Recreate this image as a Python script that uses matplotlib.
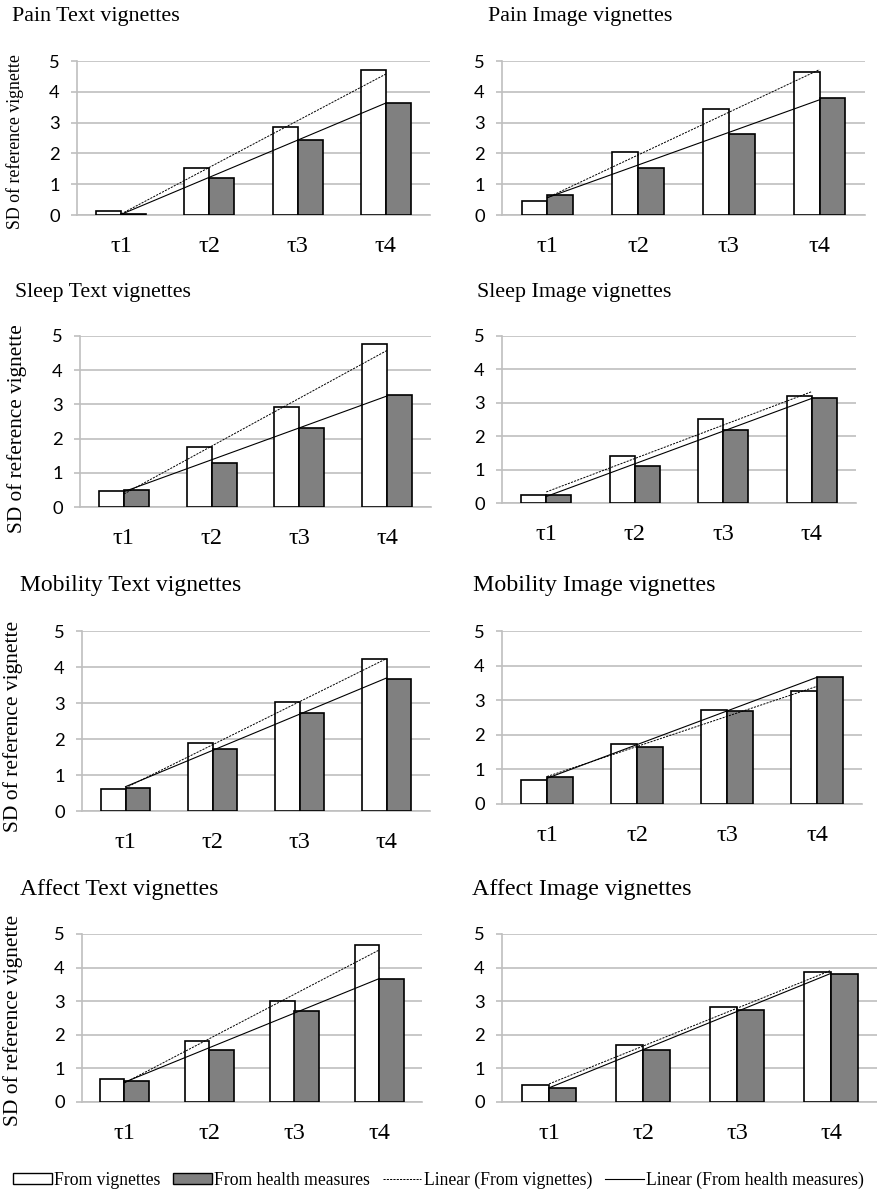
import numpy as np
import matplotlib
matplotlib.use("Agg")
import matplotlib.pyplot as plt
from matplotlib.patches import Patch
from matplotlib.lines import Line2D

# ---------------- data ----------------
categories = ["τ1", "τ2", "τ3", "τ4"]
titles = ["Pain Text vignettes", "Pain Image vignettes",
          "Sleep Text vignettes", "Sleep Image vignettes",
          "Mobility Text vignettes", "Mobility Image vignettes",
          "Affect Text vignettes", "Affect Image vignettes"]

pain_text_vig = [0.12, 1.52, 2.86, 4.72]
pain_text_hm = [0.04, 1.20, 2.42, 3.65]
pain_image_vig = [0.47, 2.04, 3.43, 4.63]
pain_image_hm = [0.64, 1.53, 2.64, 3.80]
sleep_text_vig = [0.48, 1.76, 2.92, 4.76]
sleep_text_hm = [0.50, 1.30, 2.32, 3.27]
sleep_image_vig = [0.23, 1.40, 2.50, 3.20]
sleep_image_hm = [0.23, 1.10, 2.19, 3.13]
mobility_text_vig = [0.62, 1.88, 3.02, 4.23]
mobility_text_hm = [0.65, 1.71, 2.71, 3.67]
mobility_image_vig = [0.69, 1.73, 2.71, 3.26]
mobility_image_hm = [0.79, 1.64, 2.70, 3.68]
affect_text_vig = [0.68, 1.81, 3.02, 4.68]
affect_text_hm = [0.62, 1.54, 2.71, 3.66]
affect_image_vig = [0.50, 1.70, 2.83, 3.88]
affect_image_hm = [0.42, 1.54, 2.73, 3.81]

series_vig = [pain_text_vig, pain_image_vig, sleep_text_vig, sleep_image_vig,
              mobility_text_vig, mobility_image_vig, affect_text_vig, affect_image_vig]
series_hm = [pain_text_hm, pain_image_hm, sleep_text_hm, sleep_image_hm,
             mobility_text_hm, mobility_image_hm, affect_text_hm, affect_image_hm]

ylabel_text = "SD of reference vignette"
legend_labels = ["From vignettes", "From health measures",
                 "Linear (From vignettes)", "Linear (From health measures)"]

# ---------------- layout ----------------
W, H = 877, 1191
fig = plt.figure(figsize=(W / 100, H / 100), dpi=100)

# axes boxes in pixels: (x0, x1, ytop, ybottom)
boxes = [(77, 430, 61, 215), (502, 865, 61, 215),
         (80, 431, 336, 507), (502, 856, 336, 503),
         (82, 430, 631, 811), (502, 862, 631, 804),
         (82, 422, 934, 1102), (502, 878, 934, 1102)]
title_pos = [(12, 17), (488, 17), (15, 292), (477, 293),
             (20, 585), (473, 585), (20, 890), (472, 890)]
title_size = [15.8, 15.8, 15.7, 15.8, 17.0, 17.3, 17.0, 17.3]
ylab_pos = [(15, 142, 12.8), None, (17, 429, 15.3), None,
            (13, 726, 15.5), None, (13, 1020, 15.5), None]

serif = "Liberation Serif"
sans = "Lato"
grid_col = "#BFBFBF"
gray = "#808080"
bw = 0.284

for i in range(8):
    x0, x1, yt, yb = boxes[i]
    ax = fig.add_axes([x0 / W, 1 - yb / H, (x1 - x0) / W, (yb - yt) / H])
    x = np.arange(1, 5)
    vig = np.array(series_vig[i])
    hm = np.array(series_hm[i])
    ax.bar(x - bw / 2, vig, width=bw, color="white", edgecolor="black",
           linewidth=1.2, zorder=3)
    ax.bar(x + bw / 2, hm, width=bw, color=gray, edgecolor="black",
           linewidth=1.2, zorder=3)
    # linear trend lines (least squares fits of the series)
    xe = np.array([1, 4])
    pv = np.polyfit(x, vig, 1)
    ph = np.polyfit(x, hm, 1)
    ax.plot(xe, np.polyval(pv, xe), color="black", lw=0.7,
            dashes=(2.2, 1.2), zorder=4)
    ax.plot(xe, np.polyval(ph, xe), color="black", lw=0.8, zorder=4)

    ax.set_xlim(0.5, 4.5)
    ax.set_ylim(0, 5)
    ax.set_yticks([0, 1, 2, 3, 4, 5])
    ax.set_xticks(x)
    ax.set_xticklabels(categories, fontfamily=serif, fontsize=17.5)
    for lab in ax.get_yticklabels():
        lab.set_fontfamily(sans)
        lab.set_fontsize(13.2)
    ax.yaxis.grid(True, color=grid_col, lw=1.2, zorder=0)
    ax.set_axisbelow(True)
    for s in ["top", "right"]:
        ax.spines[s].set_visible(False)
    ax.spines["left"].set_color(grid_col)
    ax.spines["left"].set_linewidth(1.2)
    ax.spines["bottom"].set_color(grid_col)
    ax.spines["bottom"].set_linewidth(1.2)
    ax.tick_params(axis="y", length=4, color=grid_col, width=1.2, pad=8.5)
    ax.tick_params(axis="x", length=0, pad=15)
    ax.set_facecolor("none")

    tx, ty = title_pos[i]
    fig.text(tx / W, 1 - ty / H, titles[i], fontfamily=serif,
             fontsize=title_size[i], ha="left", va="center")
    if ylab_pos[i] is not None:
        lx, ly, ls = ylab_pos[i]
        fig.text(lx / W, 1 - ly / H, ylabel_text, fontfamily=serif,
                 fontsize=ls, rotation=90, ha="center", va="center")

handles = [Patch(facecolor="white", edgecolor="black", linewidth=1.0),
           Patch(facecolor=gray, edgecolor="black", linewidth=1.0),
           Line2D([0], [0], color="black", lw=0.7, dashes=(2.2, 1.2)),
           Line2D([0], [0], color="black", lw=0.8)]
fig.legend(handles, legend_labels, loc="center", bbox_to_anchor=(0.5, 1 - 1180 / H),
           ncol=4, frameon=False, prop={"family": serif, "size": 12.7},
           handlelength=2.2, handleheight=0.55, handletextpad=0.15,
           columnspacing=0.7, borderpad=0, borderaxespad=0)

fig.savefig("out.png", dpi=100, facecolor="white")
